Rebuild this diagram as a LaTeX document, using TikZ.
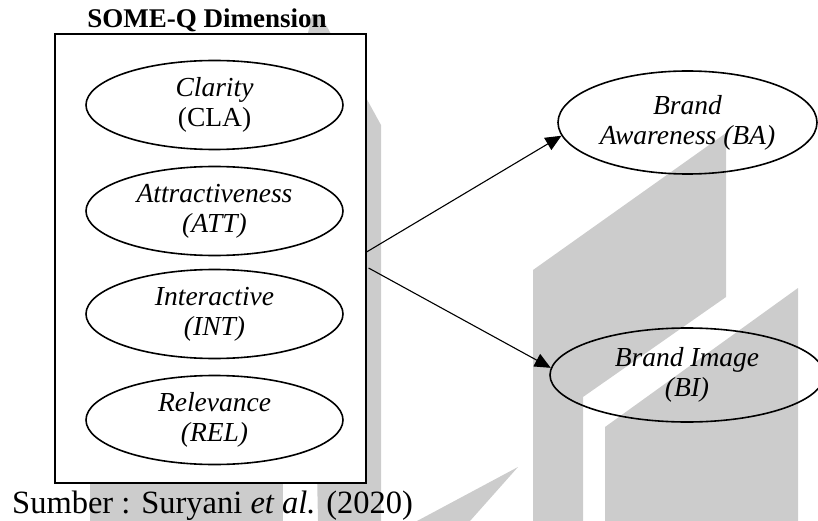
\documentclass[tikz,border=0pt]{standalone}
\usepackage{fontspec}
\setmainfont{Liberation Serif}
\usetikzlibrary{arrows.meta,shapes.geometric,calc}

\definecolor{mark}{HTML}{CCCCCC}

\tikzset{
  px/.style={x=1pt,y=-1pt},
  watermark/.style={fill=mark,draw=none},
  frame/.style={draw,line width=1.1pt,fill=white,minimum width=311pt,minimum height=449pt,inner sep=0pt},
  dimension/.style={ellipse,draw,line width=1.6pt,minimum width=257pt,minimum height=89pt,inner sep=0pt,
    align=center,font=\fontsize{27.5}{30}\selectfont},
  outcome/.style={ellipse,draw,line width=1.6pt,inner sep=0pt,align=center,font=\fontsize{27.5}{30}\selectfont},
  link/.style={line width=1.1pt,-{Triangle[length=16pt,width=14pt]}}
}

\begin{document}
\begin{tikzpicture}[px]
\useasboundingbox (0,0) rectangle (818,521);
\clip (0,0) rectangle (818,521);

% background logo shapes
\fill[watermark] (308,33) -- (312,15) -- (320,14) -- (381,125) -- (381,521) -- (318,521) -- cycle;
\fill[watermark] (90,400) rectangle (283,521);
\fill[watermark] (533,270) -- (726,133) -- (726,297) -- (583,397) -- (583,521) -- (533,521) -- cycle;
\fill[watermark] (605,427) -- (798,288) -- (798,521) -- (605,521) -- cycle;
\fill[watermark] (518,467) -- (470,521) -- (417,521) -- cycle;

% SOME-Q dimension block
\node[frame] (box) at (210.5,258.5) {};
\node[font=\bfseries\fontsize{27}{30}\selectfont,anchor=base] (title) at (207,28) {SOME-Q Dimension};

\node[dimension] (cla) at (214.5,105) {\textit{Clarity}\\(CLA)};
\node[dimension] (att) at (214.5,211) {\textit{Attractiveness}\\\textit{(ATT)}};
\node[dimension] (int) at (214.5,314) {\textit{Interactive}\\\textit{(INT)}};
\node[dimension] (rel) at (214.5,420) {\textit{Relevance}\\\textit{(REL)}};

% outcome constructs
\node[outcome,minimum width=259pt,minimum height=103pt] (ba) at (687.5,122.5) {\textit{Brand}\\\textit{Awareness (BA)}};
\node[outcome,minimum width=274pt,minimum height=94pt] (bi) at (687,375) {\textit{Brand Image}\\\textit{(BI)}};

% effect paths
\coordinate (s1) at ($(box.east)+(0,-6.5)$);
\coordinate (s2) at ($(box.east)+(2,9.5)$);
\draw[link] (s1) -- (ba.186);
\draw[link] (s2) -- (bi.177);

% source line
\node[anchor=base west,font=\fontsize{32.5}{35}\selectfont,inner sep=0pt] (src) at (12,513) {Sumber : Suryani \textit{et al.} (2020)};
\end{tikzpicture}
\end{document}
